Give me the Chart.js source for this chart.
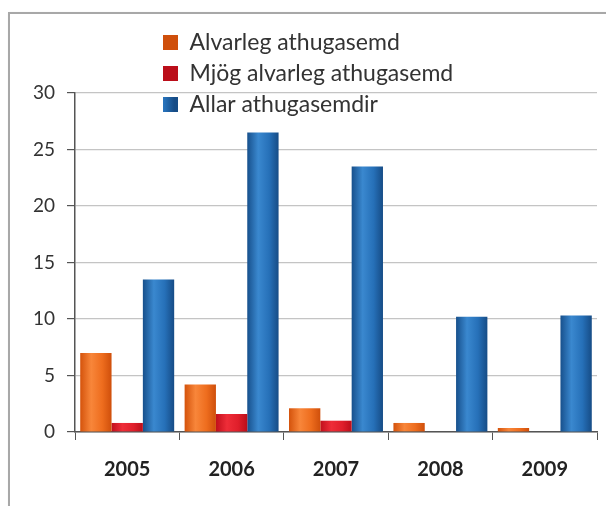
<!DOCTYPE html>
<html>
<head>
<meta charset="utf-8">
<script src="https://cdn.jsdelivr.net/npm/chart.js@4/dist/chart.umd.min.js"></script>
<style>
  html, body { margin: 0; padding: 0; background: #fff; overflow: hidden; }
  #wrap { position: relative; width: 606px; height: 506px; }
  #frame { position: absolute; left: 8px; top: 12px; width: 700px; height: 600px;
           border: 2px solid #a8a8a8; box-shadow: 1px 1px 2px #ccc; }
  canvas { position: absolute; left: 0; top: 0; }
</style>
</head>
<body>
<div id="wrap">
  <div id="frame"></div>
  <canvas id="chart" width="606" height="506"></canvas>
</div>
<script>
// data
const years = ['2005', '2006', '2007', '2008', '2009'];
const alvarleg = [7.0, 4.2, 2.1, 0.8, 0.35];
const mjogAlvarleg = [0.8, 1.6, 1.0, 0, 0];
const allar = [13.5, 26.5, 23.5, 10.2, 10.3];
const yTicks = [0, 5, 10, 15, 20, 25, 30];

const CAT_PCT = 0.9;

// horizontal shading per bar, so the bars look round like in the original
function barFill(stops, solid) {
    return (c) => {
        if (c.type !== 'data') return solid;
        const x = c.chart.scales.x;
        if (!x || !x.width) return solid;
        const group = x.width / years.length * CAT_PCT;
        const bw = group / 3;
        const left = x.getPixelForValue(c.dataIndex) - group / 2 + c.datasetIndex * bw;
        const g = c.chart.ctx.createLinearGradient(left, 0, left + bw, 0);
        stops.forEach(s => g.addColorStop(s[0], s[1]));
        return g;
    };
}

const orangeStops = [[0, '#d4530c'], [0.35, '#f8863a'], [0.7, '#ee6d1e'], [1, '#cf4f0b']];
const redStops = [[0, '#c10f1c'], [0.35, '#ee2d38'], [0.7, '#e01f2b'], [1, '#bb0e1a']];
const blueStops = [[0, '#17508c'], [0.35, '#3a88cf'], [0.7, '#2670b8'], [1, '#164c86']];

const frameLegend = {
    id: 'frameLegend',
    afterLayout(chart) {
        // put the legend up in the top left, over the plot like the original
        const lg = chart.legend;
        lg.left = 155;
        lg.top = 23;
    }
};

const ctx = document.getElementById('chart').getContext('2d');
new Chart(ctx, {
    type: 'bar',
    data: {
        labels: years,
        datasets: [
            { label: 'Alvarleg athugasemd', data: alvarleg, backgroundColor: barFill(orangeStops, '#ee6d1e') },
            { label: 'Mjög alvarleg athugasemd', data: mjogAlvarleg, backgroundColor: barFill(redStops, '#e01f2b') },
            { label: 'Allar athugasemdir', data: allar, backgroundColor: barFill(blueStops, '#2670b8') }
        ]
    },
    options: {
        responsive: false,
        animation: false,
        datasets: { bar: { categoryPercentage: CAT_PCT, barPercentage: 1.0 } },
        layout: { padding: { left: 0, top: 93, right: 9, bottom: 0 } },
        plugins: {
            legend: {
                position: 'chartArea',
                align: 'start',
                labels: {
                    boxWidth: 15, boxHeight: 15, padding: 8,
                    color: '#333',
                    font: { family: 'Lato', size: 23 }
                }
            },
            tooltip: { enabled: false }
        },
        scales: {
            x: {
                afterFit: (s) => { s.height = 74; },
                grid: { drawOnChartArea: false, tickLength: 8, color: '#555', offset: true },
                border: { color: '#555', width: 1.5 },
                ticks: { color: '#222', padding: 18, font: { family: 'Lato', size: 20, weight: 'bold' } }
            },
            y: {
                min: 0, max: 30,
                afterFit: (s) => { s.width = 75; },
                afterBuildTicks: (s) => { s.ticks = yTicks.map(v => ({ value: v })); },
                grid: { color: '#c4c4c4', tickColor: '#555', tickLength: 8, lineWidth: 1.2 },
                border: { color: '#555', width: 1.5 },
                ticks: { color: '#333', padding: 12, font: { family: 'Lato', size: 19 } }
            }
        }
    },
    plugins: [frameLegend]
});
</script>
</body>
</html>
